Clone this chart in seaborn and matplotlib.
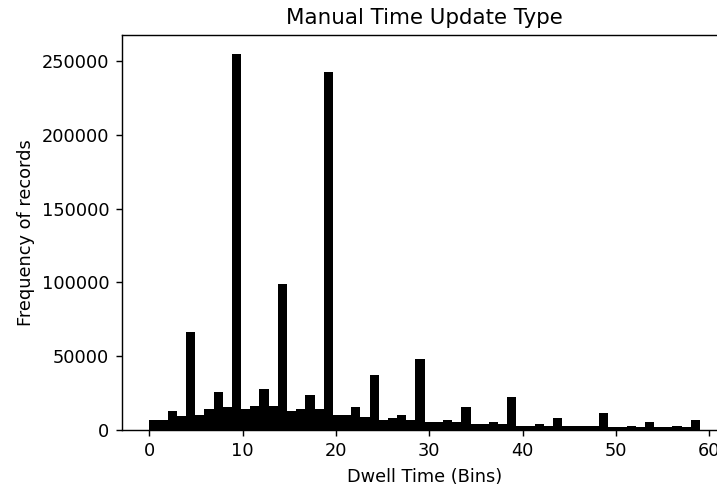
import matplotlib
matplotlib.use("Agg")
import matplotlib.pyplot as plt
import seaborn as sns

# Dwell-time bins (one integer value per histogram bin) and record counts
dwell_bins = list(range(60))
frequency = [
    6800, 6800, 12800, 9500, 66700, 10400, 14000, 26000, 15300, 255000,
    14000, 16500, 27800, 16500, 99000, 12900, 14300, 23800, 14300, 242600,
    10200, 10200, 15400, 9000, 37300, 6800, 8100, 10400, 6800, 48400,
    5200, 5200, 6800, 5400, 15400, 4100, 4100, 5500, 3800, 22500,
    2700, 2700, 4300, 2700, 8100, 2700, 2700, 2700, 2700, 11500,
    1800, 1800, 3000, 1800, 5400, 1800, 1800, 3000, 1800, 6500,
]

title = "Manual Time Update Type"
x_label = "Dwell Time (Bins)"
y_label = "Frequency of records"

dpi = 128
fig = plt.figure(figsize=(717 / dpi, 489 / dpi), dpi=dpi)
ax = fig.add_axes([121.8 / 717, 59 / 489, (727.5 - 121.8) / 717, 395 / 489])

sns.histplot(
    x=dwell_bins,
    weights=frequency,
    bins=60,
    binrange=(0, 59),
    color="black",
    alpha=1,
    linewidth=0,
    ax=ax,
)

ax.set_xlim(-2.95, 61.95)
ax.set_ylim(0, max(frequency) * 1.05)
ax.set_xticks([0, 10, 20, 30, 40, 50, 60])
ax.set_yticks([0, 50000, 100000, 150000, 200000, 250000])
ax.set_title(title)
ax.set_xlabel(x_label)
ax.set_ylabel(y_label)

fig.savefig("out.png", dpi=dpi)
